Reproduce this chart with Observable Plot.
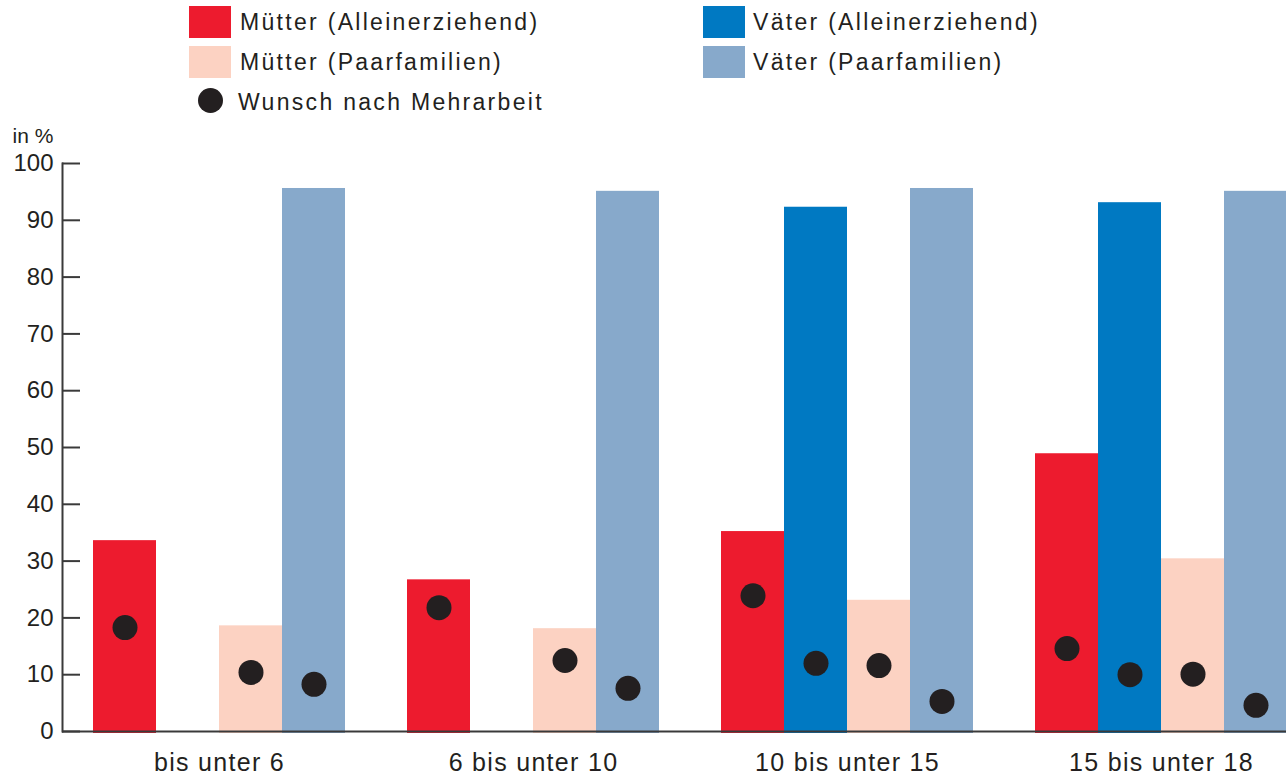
<!DOCTYPE html>
<html><head><meta charset="utf-8">
<script src="https://cdn.jsdelivr.net/npm/d3@7"></script>
<script src="https://cdn.jsdelivr.net/npm/@observablehq/plot@0.6"></script>
<style>
body{margin:0;background:#fff;font-family:"Liberation Sans",Arial,sans-serif;}
#wrap{width:1286px;height:775px;overflow:hidden;}
#legend{position:relative;height:118px;width:1286px;}
.sw{position:absolute;width:42px;height:32px;}
.lab{position:absolute;font-size:23px;letter-spacing:2.3px;line-height:30px;color:#231f20;white-space:nowrap;}
.dotk{position:absolute;width:25px;height:25px;border-radius:50%;background:#231f20;}
#chart g[aria-label="fx-axis tick label"] text{letter-spacing:1.3px;}
</style></head>
<body><div id="wrap"><div id="legend"></div><div id="chart"></div></div>
<script>
// ---- data ----
const groups = ["bis unter 6", "6 bis unter 10", "10 bis unter 15", "15 bis unter 18"];
const series = ["Mütter (Alleinerziehend)", "Väter (Alleinerziehend)", "Mütter (Paarfamilien)", "Väter (Paarfamilien)"];
const colors = ["#ED1B2E", "#0079C2", "#FCD2C2", "#87A9CB"];
// Erwerbstätigenquote (bars), in %
const muetterAllein = [33.6, 26.7, 35.2, 48.9];
const vaeterAllein  = [null, null, 92.3, 93.1];
const muetterPaar   = [18.6, 18.1, 23.1, 30.4];
const vaeterPaar    = [95.6, 95.1, 95.6, 95.1];
// Wunsch nach Mehrarbeit (dots), in %
const wunschMuetterAllein = [18.3, 21.8, 23.9, 14.6];
const wunschVaeterAllein  = [null, null, 12.0, 10.0];
const wunschMuetterPaar   = [10.4, 12.5, 11.6, 10.1];
const wunschVaeterPaar    = [8.3, 7.6, 5.3, 4.6];
const yTicks = [0, 10, 20, 30, 40, 50, 60, 70, 80, 90, 100];
const dotLabel = "Wunsch nach Mehrarbeit";
const yLabel = "in %";

const values = [muetterAllein, vaeterAllein, muetterPaar, vaeterPaar];
const wunsch = [wunschMuetterAllein, wunschVaeterAllein, wunschMuetterPaar, wunschVaeterPaar];
const data = [];
groups.forEach((g, i) => series.forEach((s, j) => {
  if (values[j][i] != null) data.push({group: g, series: s, value: values[j][i], wunsch: wunsch[j][i]});
}));

// ---- legend (HTML, above the SVG) ----
const legend = document.getElementById("legend");
const legPos = [
  {sx: 189, sy: 6, tx: 240, ty: 7},
  {sx: 703, sy: 6, tx: 753, ty: 7},
  {sx: 189, sy: 46, tx: 240, ty: 47},
  {sx: 703, sy: 46, tx: 753, ty: 47}
];
series.forEach((s, j) => {
  const p = legPos[j];
  const sw = document.createElement("div");
  sw.className = "sw"; sw.style.left = p.sx + "px"; sw.style.top = p.sy + "px"; sw.style.background = colors[j];
  legend.appendChild(sw);
  const t = document.createElement("div");
  t.className = "lab"; t.style.left = p.tx + "px"; t.style.top = p.ty + "px"; t.textContent = s;
  legend.appendChild(t);
});
{
  const d = document.createElement("div");
  d.className = "dotk"; d.style.left = "198px"; d.style.top = "88px";
  legend.appendChild(d);
  const t = document.createElement("div");
  t.className = "lab"; t.style.left = "238px"; t.style.top = "87px"; t.textContent = dotLabel;
  legend.appendChild(t);
}

// ---- chart ----
const axisColor = "#3a3a3a";
const chart = Plot.plot({
  width: 1286,
  height: 657,
  marginTop: 45,
  marginBottom: 44,
  marginLeft: 62,
  marginRight: -32,
  style: {fontFamily: "Liberation Sans, Arial, sans-serif", fontSize: "24px", color: "#231f20", background: "#fff"},
  fx: {domain: groups, padding: 0, label: null},
  x: {domain: series, paddingInner: 0, paddingOuter: 0.482, axis: null},
  y: {domain: [0, 100]},
  color: {domain: series, range: colors},
  marks: [
    Plot.barY(data, {fx: "group", x: "series", y: "value", fill: "series", insetBottom: -2}),
    Plot.dot(data.filter(d => d.wunsch != null), {fx: "group", x: "series", y: "wunsch", r: 12.5, fill: "#231f20"}),
    Plot.ruleY([0], {stroke: axisColor, strokeWidth: 2}),
    Plot.frame({anchor: "left", facet: "super", stroke: axisColor, strokeWidth: 2}),
    Plot.axisY(yTicks, {anchor: "left", tickSize: -18, tickPadding: 27, stroke: axisColor, strokeWidth: 2, fontSize: 24, fill: "#231f20", label: null, tickFormat: d => String(d)}),
    Plot.axisFx({anchor: "bottom", tickSize: 0, tickPadding: 22, fontSize: 25, fill: "#231f20", label: null}),
    Plot.text([yLabel], {facet: "super", frameAnchor: "top-left", text: d => d, textAnchor: "start", dx: -50, dy: -35, fontSize: 21, fill: "#231f20"})
  ]
});
document.getElementById("chart").appendChild(chart);
</script>
</body></html>
